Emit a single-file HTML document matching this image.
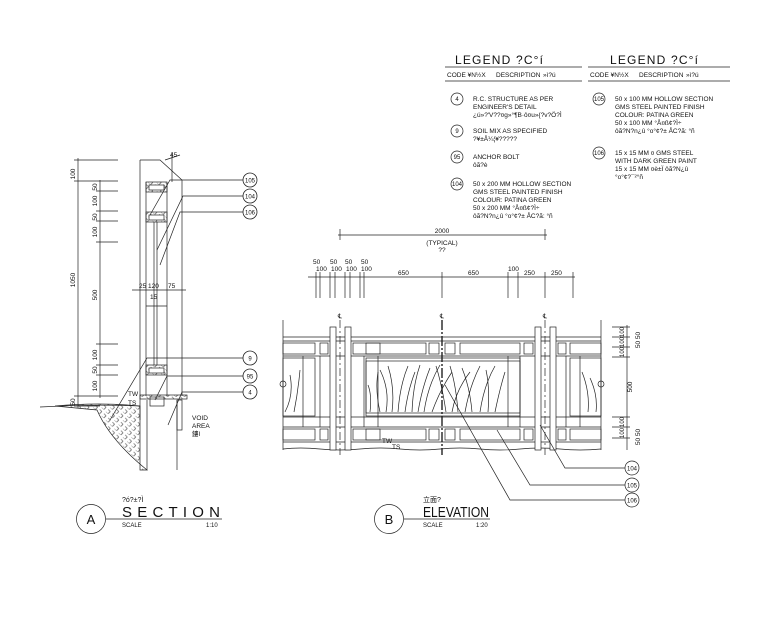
<!DOCTYPE html>
<html><head><meta charset="utf-8"><style>
html,body{margin:0;padding:0;background:#fff}
svg{display:block}
text{font-family:"Liberation Sans","Noto Sans CJK SC",sans-serif;fill:#111}
</style></head><body>
<svg width="780" height="624" viewBox="0 0 780 624" xmlns="http://www.w3.org/2000/svg">
<defs>
<pattern id="hatch" width="6" height="6" patternUnits="userSpaceOnUse" patternTransform="rotate(45)">
<path d="M0 0H3M3 3V6M0 3H3" stroke="#333" stroke-width="0.6" fill="none"/>
</pattern>
</defs>
<g stroke="#222" stroke-width="0.7" fill="none">
<line x1="78" y1="158" x2="78" y2="408"/>
<line x1="100" y1="180" x2="100" y2="398"/>
<g>
<line x1="74" y1="160" x2="118" y2="160"/>
<line x1="74" y1="181" x2="118" y2="181"/>
<line x1="96" y1="191" x2="118" y2="191"/>
<line x1="96" y1="211" x2="118" y2="211"/>
<line x1="96" y1="221" x2="118" y2="221"/>
<line x1="96" y1="242" x2="118" y2="242"/>
<line x1="96" y1="344" x2="118" y2="344"/>
<line x1="96" y1="365" x2="118" y2="365"/>
<line x1="96" y1="375" x2="118" y2="375"/>
<line x1="74" y1="396" x2="118" y2="396"/>
<line x1="74" y1="406" x2="100" y2="406"/>
</g>
<path d="M140 160H160L182 180V396"/>
<line x1="140" y1="160" x2="140" y2="420"/>
<line x1="146" y1="182" x2="146" y2="396"/>
<line x1="167" y1="182" x2="167" y2="396"/>
<rect x="146" y="182" width="21" height="10" fill="url(#hatch)"/>
<rect x="149" y="185" width="15" height="5" fill="#fff"/>
<rect x="146" y="212" width="21" height="10" fill="url(#hatch)"/>
<rect x="149" y="215" width="15" height="5" fill="#fff"/>
<rect x="146" y="365" width="21" height="10" fill="url(#hatch)"/>
<rect x="149" y="368" width="15" height="5" fill="#fff"/>
<line x1="154" y1="222" x2="154" y2="365"/>
<line x1="157" y1="222" x2="157" y2="365"/>
<line x1="172" y1="152" x2="172" y2="182"/>
<line x1="165" y1="160" x2="180" y2="155"/>
<line x1="132" y1="290" x2="186" y2="290"/>
<line x1="146" y1="306" x2="167" y2="306"/>
<rect x="140" y="395" width="47" height="4" fill="url(#hatch)"/>
<rect x="150" y="397" width="14" height="9"/>
<line x1="147" y1="400" x2="147" y2="470"/>
<line x1="177" y1="400" x2="177" y2="470"/>
<rect x="177" y="400" width="5" height="30"/>
<path d="M55 406Q100 402 140 406L140 470H147Q110 440 97 410Z" fill="url(#hatch)"/>
<path d="M40 407Q90 404 140 406"/>
<path d="M243 180H170L150 215"/>
<path d="M243 196H183L157 250"/>
<path d="M243 212H180L160 265"/>
<path d="M243 358H147L110 420"/>
<path d="M243 376H167L155 400"/>
<path d="M243 392H182L168 425"/>
<g stroke-width="0.8">
<circle cx="250" cy="180" r="7"/><circle cx="250" cy="196" r="7"/><circle cx="250" cy="212" r="7"/>
<circle cx="250" cy="358" r="7"/><circle cx="250" cy="376" r="7"/><circle cx="250" cy="392" r="7"/>
</g>
<line x1="338" y1="235" x2="547" y2="235"/>
<line x1="340" y1="229" x2="340" y2="240"/><line x1="545" y1="229" x2="545" y2="240"/>
<line x1="308" y1="277" x2="575" y2="277"/>
<g>
<line x1="316" y1="272" x2="316" y2="298"/><line x1="320" y1="272" x2="320" y2="298"/>
<line x1="330" y1="272" x2="330" y2="298"/><line x1="335" y1="272" x2="335" y2="298"/>
<line x1="345" y1="272" x2="345" y2="298"/><line x1="350" y1="272" x2="350" y2="298"/>
<line x1="360" y1="272" x2="360" y2="298"/><line x1="364" y1="272" x2="364" y2="298"/>
<line x1="442" y1="272" x2="442" y2="298"/>
<line x1="508" y1="272" x2="508" y2="298"/><line x1="518" y1="272" x2="518" y2="298"/>
<line x1="545" y1="272" x2="545" y2="298"/><line x1="573" y1="272" x2="573" y2="298"/>
</g>
<line x1="283" y1="337" x2="601" y2="337"/>
<line x1="283" y1="341" x2="601" y2="341"/>
<line x1="283" y1="356" x2="601" y2="356"/>
<line x1="283" y1="417" x2="601" y2="417"/>
<line x1="283" y1="427" x2="601" y2="427"/>
<line x1="283" y1="442" x2="601" y2="442"/>
<path d="M283 449Q300 447 320 449T360 449T400 449T440 449T480 449T520 449T560 449T601 449"/>
<line x1="283" y1="320" x2="283" y2="450"/><line x1="601" y1="320" x2="601" y2="450"/>
<g>
<rect x="283" y="343" width="32" height="11"/><rect x="320" y="343" width="8" height="11"/>
<rect x="353" y="343" width="27" height="11"/><rect x="366" y="343" width="60" height="11"/>
<rect x="429" y="343" width="10" height="11"/><rect x="445" y="343" width="10" height="11"/>
<rect x="460" y="343" width="60" height="11"/><rect x="524" y="343" width="9" height="11"/>
<rect x="558" y="343" width="8" height="11"/><rect x="570" y="343" width="31" height="11"/>
<rect x="283" y="429" width="32" height="11"/><rect x="320" y="429" width="8" height="11"/>
<rect x="353" y="429" width="27" height="11"/><rect x="366" y="429" width="60" height="11"/>
<rect x="429" y="429" width="10" height="11"/><rect x="445" y="429" width="10" height="11"/>
<rect x="460" y="429" width="60" height="11"/><rect x="524" y="429" width="9" height="11"/>
<rect x="558" y="429" width="8" height="11"/><rect x="570" y="429" width="31" height="11"/>
</g>
<rect x="366" y="358" width="154" height="58"/>
<rect x="366" y="361" width="154" height="52"/>
<rect x="283" y="358" width="32" height="58"/>
<rect x="570" y="358" width="31" height="58"/>
<line x1="303" y1="356" x2="303" y2="427"/><line x1="580" y1="356" x2="580" y2="427"/>
<line x1="320" y1="356" x2="320" y2="427"/><line x1="364" y1="356" x2="364" y2="427"/>
<line x1="520" y1="356" x2="520" y2="427"/><line x1="566" y1="356" x2="566" y2="427"/>
<line x1="508" y1="356" x2="508" y2="427"/><line x1="378" y1="356" x2="378" y2="427"/>
<g stroke-width="0.7">
<path d="M380 412Q375 390 378 372"/><path d="M386 412Q390 390 380 370"/>
<path d="M392 412Q395 388 388 366"/><path d="M398 412Q400 385 408 366"/>
<path d="M405 412Q408 390 415 372"/><path d="M412 412Q413 385 420 365"/>
<path d="M418 412Q422 388 430 368"/><path d="M424 412Q428 385 440 365"/>
<path d="M432 412Q440 390 452 372"/><path d="M446 412Q442 385 436 366"/>
<path d="M452 412Q456 390 470 372"/><path d="M458 412Q456 385 450 366"/>
<path d="M465 412Q470 385 480 366"/><path d="M472 412Q470 388 462 368"/>
<path d="M480 412Q484 385 495 366"/><path d="M488 412Q490 388 486 370"/>
<path d="M495 412Q500 388 505 372"/><path d="M370 412Q372 395 368 385"/>
<path d="M285 412Q294 395 290 375"/><path d="M294 412Q298 392 300 370"/>
<path d="M588 412Q590 392 582 372"/><path d="M596 412Q598 395 590 378"/>
</g>
<circle cx="601" cy="384" r="3"/><circle cx="283" cy="384" r="3"/>
<rect x="330" y="327" width="6" height="123" fill="#fff"/>
<rect x="345" y="327" width="6" height="123" fill="#fff"/>
<rect x="535" y="327" width="6" height="123" fill="#fff"/>
<rect x="550" y="327" width="6" height="123" fill="#fff"/>
<line x1="340" y1="320" x2="340" y2="455" stroke-dasharray="8 3 2 3"/>
<line x1="545" y1="320" x2="545" y2="455" stroke-dasharray="8 3 2 3"/>
<line x1="442" y1="320" x2="442" y2="455" stroke-width="1.4" stroke-dasharray="10 2 2 2"/>
<line x1="627" y1="325" x2="627" y2="450"/>
<g>
<line x1="612" y1="327" x2="630" y2="327"/><line x1="612" y1="337" x2="630" y2="337"/>
<line x1="612" y1="347" x2="630" y2="347"/><line x1="612" y1="357" x2="630" y2="357"/>
<line x1="612" y1="417" x2="630" y2="417"/><line x1="612" y1="427" x2="630" y2="427"/>
<line x1="612" y1="438" x2="630" y2="438"/>
</g>
<path d="M625 468H565L540 425"/>
<path d="M625 485H530L497 430"/>
<path d="M625 500H510L445 385"/>
<circle cx="632" cy="468" r="7"/><circle cx="632" cy="485" r="7"/><circle cx="632" cy="500" r="7"/>
<circle cx="91" cy="519" r="14.5"/>
<line x1="106" y1="519" x2="222" y2="519"/>
<circle cx="389" cy="519" r="14.5"/>
<line x1="404" y1="519" x2="490" y2="519"/>
<line x1="445" y1="67" x2="582" y2="67"/><line x1="445" y1="81" x2="582" y2="81"/>
<line x1="588" y1="67" x2="730" y2="67"/><line x1="588" y1="81" x2="730" y2="81"/>
<circle cx="457" cy="99" r="6"/><circle cx="457" cy="131" r="6"/>
<circle cx="457" cy="157" r="6"/><circle cx="457" cy="184" r="6"/>
<circle cx="599" cy="99" r="6"/><circle cx="599" cy="153" r="6"/>
</g>
<g font-size="6.5">
<text transform="translate(75,174) rotate(-90)" text-anchor="middle">100</text>
<text transform="translate(75,280) rotate(-90)" text-anchor="middle">1050</text>
<text transform="translate(75,402) rotate(-90)" text-anchor="middle">50</text>
<text transform="translate(97,187) rotate(-90)" text-anchor="middle">50</text>
<text transform="translate(97,201) rotate(-90)" text-anchor="middle">100</text>
<text transform="translate(97,217) rotate(-90)" text-anchor="middle">50</text>
<text transform="translate(97,232) rotate(-90)" text-anchor="middle">100</text>
<text transform="translate(97,295) rotate(-90)" text-anchor="middle">500</text>
<text transform="translate(97,355) rotate(-90)" text-anchor="middle">100</text>
<text transform="translate(97,370) rotate(-90)" text-anchor="middle">50</text>
<text transform="translate(97,386) rotate(-90)" text-anchor="middle">100</text>
<text x="139" y="288">25</text><text x="148" y="288">120</text><text x="168" y="288">75</text>
<text x="150" y="299">15</text>
<text x="170" y="157">45</text>
<text x="128" y="396">TW</text><text x="128" y="405">TS</text>
<text x="192" y="420">VOID</text><text x="192" y="428">AREA</text><text x="192" y="436">鏤ǀ</text>
<text x="250" y="182.5" text-anchor="middle" font-size="6">105</text>
<text x="250" y="198.5" text-anchor="middle" font-size="6">104</text>
<text x="250" y="214.5" text-anchor="middle" font-size="6">106</text>
<text x="250" y="360.5" text-anchor="middle" font-size="6">9</text>
<text x="250" y="378.5" text-anchor="middle" font-size="6">95</text>
<text x="250" y="394.5" text-anchor="middle" font-size="6">4</text>
<text x="442" y="233" text-anchor="middle">2000</text>
<text x="442" y="245" text-anchor="middle">(TYPICAL)</text>
<text x="442" y="252" text-anchor="middle">??</text>
<text x="313" y="264">50</text><text x="330" y="264">50</text><text x="345" y="264">50</text><text x="361" y="264">50</text>
<text x="316" y="271">100</text><text x="331" y="271">100</text><text x="346" y="271">100</text><text x="361" y="271">100</text>
<text x="398" y="275">650</text><text x="468" y="275">650</text>
<text x="508" y="271">100</text><text x="524" y="275">250</text><text x="551" y="275">250</text>
<text x="340" y="318" text-anchor="middle">℄</text><text x="442" y="318" text-anchor="middle">℄</text><text x="545" y="318" text-anchor="middle">℄</text>
<text x="382" y="443">TW</text><text x="392" y="449">TS</text>
<text transform="translate(624,332) rotate(-90)" text-anchor="middle" font-size="6">100</text>
<text transform="translate(624,342) rotate(-90)" text-anchor="middle" font-size="6">100</text>
<text transform="translate(624,352) rotate(-90)" text-anchor="middle" font-size="6">100</text>
<text transform="translate(632,387) rotate(-90)" text-anchor="middle">500</text>
<text transform="translate(624,422) rotate(-90)" text-anchor="middle" font-size="6">100</text>
<text transform="translate(624,433) rotate(-90)" text-anchor="middle" font-size="6">100</text>
<text transform="translate(640,340) rotate(-90)" text-anchor="middle">50 50</text>
<text transform="translate(640,437) rotate(-90)" text-anchor="middle">50 50</text>
<text x="632" y="470.5" text-anchor="middle" font-size="6">104</text>
<text x="632" y="487.5" text-anchor="middle" font-size="6">105</text>
<text x="632" y="502.5" text-anchor="middle" font-size="6">106</text>
</g>
<text x="91" y="524" text-anchor="middle" font-size="13">A</text>
<text x="389" y="524" text-anchor="middle" font-size="13">B</text>
<text x="122" y="502" font-size="7">?ó?±?Ì</text>
<text x="122" y="517" font-size="15" textLength="98" lengthAdjust="spacing">SECTION</text>
<text x="122" y="527" font-size="6">SCALE</text><text x="206" y="527" font-size="6">1:10</text>
<text x="423" y="502" font-size="7">立面?</text>
<text x="423" y="517" font-size="15" textLength="66" lengthAdjust="spacingAndGlyphs">ELEVATION</text>
<text x="423" y="527" font-size="6">SCALE</text><text x="476" y="527" font-size="6">1:20</text>
<text x="455" y="64" font-size="12" textLength="88" lengthAdjust="spacing">LEGEND ?C°í</text>
<text x="610" y="64" font-size="12" textLength="88" lengthAdjust="spacing">LEGEND ?C°í</text>
<g font-size="6.5">
<text x="447" y="77">CODE ¥N½X</text><text x="496" y="77">DESCRIPTION</text><text x="543" y="77">»ì?ú</text>
<text x="590" y="77">CODE ¥N½X</text><text x="639" y="77">DESCRIPTION</text><text x="686" y="77">»ì?ú</text>
<text x="457" y="101" text-anchor="middle" font-size="6">4</text>
<text x="457" y="133" text-anchor="middle" font-size="6">9</text>
<text x="457" y="159" text-anchor="middle" font-size="6">95</text>
<text x="457" y="186" text-anchor="middle" font-size="6">104</text>
<text x="599" y="101" text-anchor="middle" font-size="6">105</text>
<text x="599" y="155" text-anchor="middle" font-size="6">106</text>
<text x="473" y="101">R.C. STRUCTURE AS PER</text>
<text x="473" y="109">ENGINEER'S DETAIL</text>
<text x="473" y="117">¿ú»?'V??¤g»°¶B·ô¤u»{?v?Ö?Ì</text>
<text x="473" y="133">SOIL MIX AS SPECIFIED</text>
<text x="473" y="141">?¥±Å¼¦¥?????</text>
<text x="473" y="159">ANCHOR BOLT</text>
<text x="473" y="167">ôã?è</text>
<text x="473" y="186">50 x 200 MM HOLLOW SECTION</text>
<text x="473" y="194">GMS STEEL PAINTED FINISH</text>
<text x="473" y="202">COLOUR: PATINA GREEN</text>
<text x="473" y="210">50 x 200 MM °Å¤ß¢?Ì÷</text>
<text x="473" y="218">ôã?N?n¿û °o°¢?± ÅC?ã: °ñ</text>
<text x="615" y="101">50 x 100 MM HOLLOW SECTION</text>
<text x="615" y="109">GMS STEEL PAINTED FINISH</text>
<text x="615" y="117">COLOUR: PATINA GREEN</text>
<text x="615" y="125">50 x 100 MM °Å¤ß¢?Ì÷</text>
<text x="615" y="133">ôã?N?n¿û °o°¢?± ÅC?ã: °ñ</text>
<text x="615" y="155">15 x 15 MM ¤ GMS STEEL</text>
<text x="615" y="163">WITH DARK GREEN PAINT</text>
<text x="615" y="171">15 x 15 MM ¤è±Ï ôã?N¿û</text>
<text x="615" y="179">°o°¢?¯²°ñ</text>
</g>
</svg>
</body></html>
